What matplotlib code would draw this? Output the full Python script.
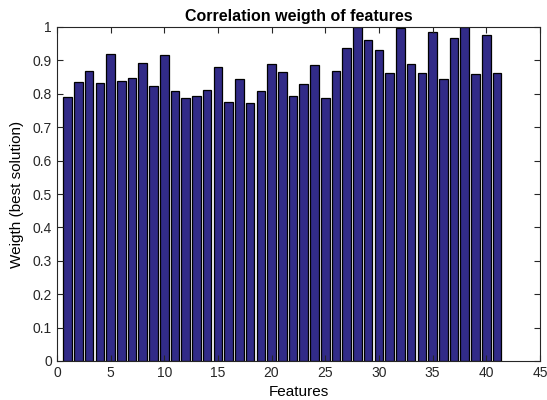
import numpy as np
import matplotlib
matplotlib.use("Agg")
import matplotlib.pyplot as plt
from matplotlib.ticker import FixedLocator, FuncFormatter

# --- DATA ---
features = list(range(1, 42))
weights = [0.791, 0.834, 0.869, 0.832, 0.920, 0.837, 0.846, 0.891, 0.822, 0.917,
           0.807, 0.788, 0.792, 0.810, 0.879, 0.776, 0.845, 0.772, 0.809, 0.890,
           0.865, 0.794, 0.829, 0.887, 0.788, 0.868, 0.938, 1.000, 0.960, 0.932,
           0.862, 0.996, 0.889, 0.862, 0.984, 0.845, 0.968, 1.000, 0.858, 0.975,
           0.862]
x_ticks = [0, 5, 10, 15, 20, 25, 30, 35, 40, 45]
y_ticks = [0, 0.1, 0.2, 0.3, 0.4, 0.5, 0.6, 0.7, 0.8, 0.9, 1.0]

plt.rcParams['font.family'] = ['Liberation Sans', 'DejaVu Sans']

fig = plt.figure(figsize=(5.47, 4.0), dpi=100)
ax = fig.add_axes([0.104, 0.0975, 0.883, 0.835])

ax.bar(features, weights, width=0.8, color='#322b88', edgecolor='black', linewidth=0.9)

ax.set_xlim(0, 45)
ax.set_ylim(0, 1)
ax.xaxis.set_major_locator(FixedLocator(x_ticks))
ax.yaxis.set_major_locator(FixedLocator(y_ticks))
ax.yaxis.set_major_formatter(FuncFormatter(lambda v, p: f"{v:g}"))
ax.tick_params(direction='in', length=4, width=0.8, top=True, right=True,
               labelsize=10, colors='#262626')
for s in ax.spines.values():
    s.set_linewidth(0.8)
    s.set_color('#262626')

ax.set_title('Correlation weigth of features', fontsize=11.5, fontweight='bold', pad=4)
ax.set_xlabel('Features', fontsize=11, labelpad=4)
ax.set_ylabel('Weigth (best solution)', fontsize=11, labelpad=6)

fig.savefig('out.png', dpi=100)
